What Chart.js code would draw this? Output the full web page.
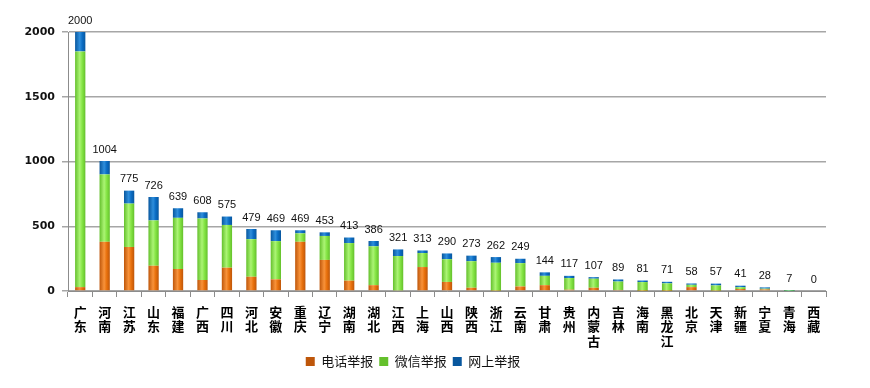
<!DOCTYPE html>
<html>
<head>
<meta charset="utf-8">
<script src="https://cdn.jsdelivr.net/npm/chart.js@4"></script>
<style>
  html, body { margin: 0; padding: 0; background: #fff; }
  #wrap { width: 870px; height: 388px; }
</style>
</head>
<body>
<div id="wrap"><canvas id="reportChart" width="870" height="388"></canvas></div>
<script>
// provinces, each split into characters so they stack vertically
const provinces = ['广东', '河南', '江苏', '山东', '福建', '广西', '四川', '河北', '安徽', '重庆',
    '辽宁', '湖南', '湖北', '江西', '上海', '山西', '陕西', '浙江', '云南', '甘肃',
    '贵州', '内蒙古', '吉林', '海南', '黑龙江', '北京', '天津', '新疆', '宁夏', '青海', '西藏'];

// values
const phoneReports  = [30, 380, 340, 195, 170, 85, 180, 110, 90, 380,
    240, 80, 45, 5, 185, 70, 25, 3, 35, 45,
    10, 25, 8, 2, 2, 30, 3, 15, 12, 0, 0];
const wechatReports = [1820, 520, 335, 350, 395, 475, 330, 290, 295, 65,
    185, 290, 300, 265, 108, 175, 205, 215, 180, 72,
    90, 70, 65, 67, 57, 18, 40, 14, 6, 1, 0];
const onlineReports = [150, 104, 100, 181, 74, 48, 65, 79, 84, 24,
    28, 43, 41, 51, 20, 45, 43, 44, 34, 27,
    17, 12, 16, 12, 12, 10, 14, 12, 10, 6, 0];
const yTicks = [0, 500, 1000, 1500, 2000];

const BAR_PCT = 0.42;

// shaded fill so the bars look a bit like cylinders
function cylinder(dark, mid, light) {
    return function(context) {
        const chart = context.chart;
        const xScale = chart.scales.x;
        if (!chart.chartArea || !xScale || context.dataIndex === undefined) return mid;
        const cx = xScale.getPixelForValue(context.dataIndex);
        const half = (xScale.width / provinces.length) * BAR_PCT / 2;
        const g = chart.ctx.createLinearGradient(cx - half, 0, cx + half, 0);
        g.addColorStop(0, dark);
        g.addColorStop(0.45, light);
        g.addColorStop(0.7, mid);
        g.addColorStop(1, dark);
        return g;
    };
}

// total above each stack
const totalLabels = {
    id: 'totalLabels',
    afterDatasetsDraw(chart) {
        const ctx = chart.ctx;
        const topMeta = chart.getDatasetMeta(2);
        ctx.save();
        ctx.font = '11px "Liberation Sans", Arial, sans-serif';
        ctx.fillStyle = '#111';
        ctx.textAlign = 'center';
        ctx.textBaseline = 'bottom';
        topMeta.data.forEach(function(bar, i) {
            const total = phoneReports[i] + wechatReports[i] + onlineReports[i];
            ctx.fillText(String(total), bar.x, bar.y - 6);
        });
        ctx.restore();
    }
};

const ctx = document.getElementById('reportChart');
new Chart(ctx, {
    type: 'bar',
    data: {
        labels: provinces.map(function(p) { return p.split(''); }),
        datasets: [
            { label: '电话举报', data: phoneReports, backgroundColor: cylinder('#BE560A', '#E8700C', '#F8923A') },
            { label: '微信举报', data: wechatReports, backgroundColor: cylinder('#64C02C', '#84E444', '#ABF474') },
            { label: '网上举报', data: onlineReports, backgroundColor: cylinder('#08579E', '#0A6CC4', '#2E8EDC') }
        ]
    },
    options: {
        responsive: false,
        animation: false,
        layout: { padding: { left: 0, right: 44, top: 32, bottom: 10 } },
        datasets: { bar: { barPercentage: BAR_PCT, categoryPercentage: 1.0 } },
        scales: {
            x: {
                stacked: true,
                grid: { offset: true, drawOnChartArea: false, drawTicks: true, tickLength: 6, color: '#8c8c8c' },
                border: { color: '#8c8c8c' },
                ticks: {
                    maxRotation: 0,
                    autoSkip: false,
                    padding: 8,
                    color: '#000',
                    font: { family: '"Noto Sans CJK SC", sans-serif', size: 13, weight: 'bold', lineHeight: 1.1 }
                },
                afterFit: function(scale) { scale.height = 58; }
            },
            y: {
                stacked: true,
                min: 0,
                max: 2000,
                afterBuildTicks: function(scale) { scale.ticks = yTicks.map(function(v) { return { value: v }; }); },
                grid: { color: '#a6a6a6', lineWidth: 1.5, tickLength: 6 },
                border: { color: '#8c8c8c' },
                ticks: {
                    color: '#111',
                    padding: 7,
                    callback: function(value) { return String(value); },
                    font: { family: '"DejaVu Sans", sans-serif', size: 11, weight: 'bold' }
                },
                afterFit: function(scale) { scale.width = 68; }
            }
        },
        plugins: {
            legend: {
                position: 'bottom',
                labels: {
                    boxWidth: 9,
                    boxHeight: 9,
                    padding: 6,
                    color: '#111',
                    font: { family: '"Noto Sans CJK SC", sans-serif', size: 13 }
                }
            },
            tooltip: { enabled: false }
        }
    },
    plugins: [totalLabels]
});
</script>
</body>
</html>
